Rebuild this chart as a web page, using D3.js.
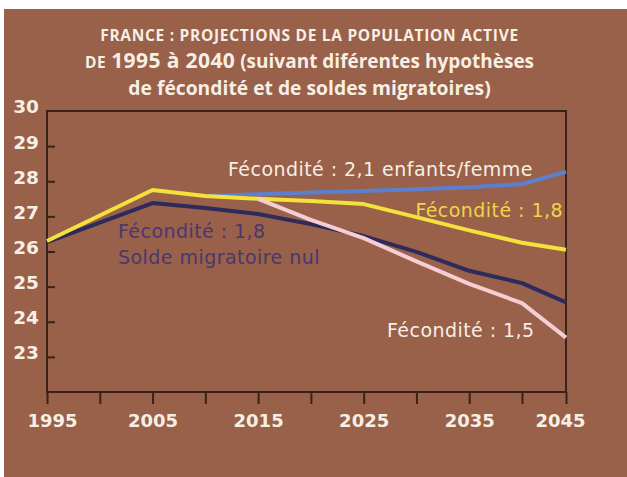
<!DOCTYPE html>
<html>
<head>
<meta charset="utf-8">
<script src="https://cdn.jsdelivr.net/npm/d3@7"></script>
<style>
  html, body { margin: 0; padding: 0; background: #ffffff; }
  svg { display: block; }
</style>
</head>
<body>
<svg id="chart" width="627" height="477"></svg>
<script>
// Population active (millions), France, projections selon la fécondité et le solde migratoire
const yTicks = [23, 24, 25, 26, 27, 28, 29, 30];
const xTicks = [1995, 2000, 2005, 2010, 2015, 2020, 2025, 2030, 2035, 2040, 2045];
const xLabels = [1995, 2005, 2015, 2025, 2035, 2045];

const yearsFec18 = [1995, 2005, 2010, 2015, 2020, 2025, 2030, 2035, 2040, 2045];
const fec18 = [26.3, 27.75, 27.58, 27.5, 27.44, 27.35, 26.98, 26.6, 26.25, 26.05];

const yearsFec21 = [2010, 2015, 2020, 2025, 2030, 2035, 2040, 2045];
const fec21 = [27.58, 27.63, 27.68, 27.72, 27.77, 27.83, 27.92, 28.27];

const yearsFec15 = [2015, 2020, 2025, 2030, 2035, 2040, 2045];
const fec15 = [27.5, 26.9, 26.38, 25.72, 25.08, 24.53, 23.55];

const yearsNul = [1995, 2005, 2010, 2015, 2020, 2025, 2030, 2035, 2040, 2045];
const fec18SoldeNul = [26.27, 27.38, 27.24, 27.07, 26.78, 26.44, 25.99, 25.45, 25.1, 24.55];

const svg = d3.select("#chart");
const W = 627, H = 477;
const bg = "#99604a";
const cream = "#f7efe4";
const axisColor = "#3a2119";

// panel background
svg.append("rect").attr("x", 4).attr("y", 9).attr("width", W - 4).attr("height", H - 9).attr("fill", bg);

const plotLeft = 47, plotRight = 566, plotTop = 111, plotBottom = 392;
// the last interval of the time axis is drawn a little narrower
const x = d3.scaleLinear().domain([1995, 2040, 2045]).range([plotLeft, 522, plotRight]);
const y = d3.scaleLinear().domain([22, 30]).range([plotBottom, plotTop]);

// title
const title = svg.append("text")
  .attr("text-anchor", "middle")
  .attr("fill", cream)
  .attr("font-family", "'Open Sans', sans-serif")
  .attr("font-weight", 700);
title.append("tspan").attr("x", 309.5).attr("y", 41).attr("font-size", 15.5)
  .attr("letter-spacing", 0.7)
  .text("FRANCE : PROJECTIONS DE LA POPULATION ACTIVE");
const l2 = title.append("tspan").attr("x", 309.5).attr("y", 68);
l2.append("tspan").attr("font-size", 15.5).attr("letter-spacing", 0.7).text("DE ");
l2.append("tspan").attr("font-size", 21).attr("letter-spacing", 0.4).text("1995 à 2040");
l2.append("tspan").attr("font-size", 19).text(" (suivant diférentes hypothèses");
title.append("tspan").attr("x", 309.5).attr("y", 95).attr("font-size", 19.3)
  .text("de fécondité et de soldes migratoires)");

// frame
svg.append("rect")
  .attr("x", plotLeft).attr("y", plotTop)
  .attr("width", plotRight - plotLeft).attr("height", plotBottom - plotTop)
  .attr("fill", "none").attr("stroke", axisColor).attr("stroke-width", 2);

// y axis: ticks point into the plot
const yAxis = svg.append("g").attr("transform", `translate(${plotLeft},0)`)
  .call(d3.axisLeft(y).tickValues(yTicks).tickSizeInner(-8).tickSizeOuter(0).tickPadding(8).tickFormat(d3.format("d")));
yAxis.select(".domain").remove();
yAxis.selectAll(".tick line").attr("stroke", axisColor).attr("stroke-width", 2)
  .attr("opacity", d => d === 30 ? 0 : 1);
yAxis.selectAll(".tick text")
  .attr("fill", cream).attr("font-family", "'DejaVu Sans', sans-serif")
  .attr("font-weight", 700).attr("font-size", 18.5)
  .attr("dy", "0.32em").attr("y", -4);

// x axis
const xAxis = svg.append("g").attr("transform", `translate(0,${plotBottom})`)
  .call(d3.axisBottom(x).tickValues(xTicks).tickSizeInner(12).tickSizeOuter(0).tickPadding(10)
    .tickFormat(d => xLabels.includes(d) ? String(d) : ""));
xAxis.select(".domain").remove();
xAxis.selectAll(".tick line").attr("stroke", axisColor).attr("stroke-width", 2);
xAxis.selectAll(".tick text")
  .attr("fill", cream).attr("font-family", "'DejaVu Sans', sans-serif")
  .attr("font-weight", 700).attr("font-size", 18)
  .attr("dx", d => d === 1995 ? 5 : d === 2045 ? -6 : 0);

// series
const line = d3.line().x(d => x(d[0])).y(d => y(d[1]));
const series = [
  { years: yearsNul, values: fec18SoldeNul, color: "#2d2a5c" },
  { years: yearsFec21, values: fec21, color: "#5b80cf" },
  { years: yearsFec18, values: fec18, color: "#f3e23c" },
  { years: yearsFec15, values: fec15, color: "#f6cdd2" }
];
svg.append("g").selectAll("path").data(series).join("path")
  .attr("d", s => line(s.years.map((yr, i) => [yr, s.values[i]])))
  .attr("fill", "none")
  .attr("stroke", s => s.color)
  .attr("stroke-width", 4)
  .attr("stroke-linejoin", "round");

// annotations
const note = (tx, ty, text, color, anchor) => svg.append("text")
  .attr("x", tx).attr("y", ty)
  .attr("text-anchor", anchor || "start")
  .attr("fill", color)
  .attr("font-family", "'DejaVu Sans', sans-serif")
  .attr("font-size", 19)
  .attr("letter-spacing", 0.45)
  .text(text);

note(228, 176, "Fécondité : 2,1 enfants/femme", cream);
note(563, 217, "Fécondité : 1,8", "#eed54a", "end");
note(118, 238, "Fécondité : 1,8", "#47396c");
note(118, 264, "Solde migratoire nul", "#47396c");
note(387, 337, "Fécondité : 1,5", cream);
</script>
</body>
</html>
